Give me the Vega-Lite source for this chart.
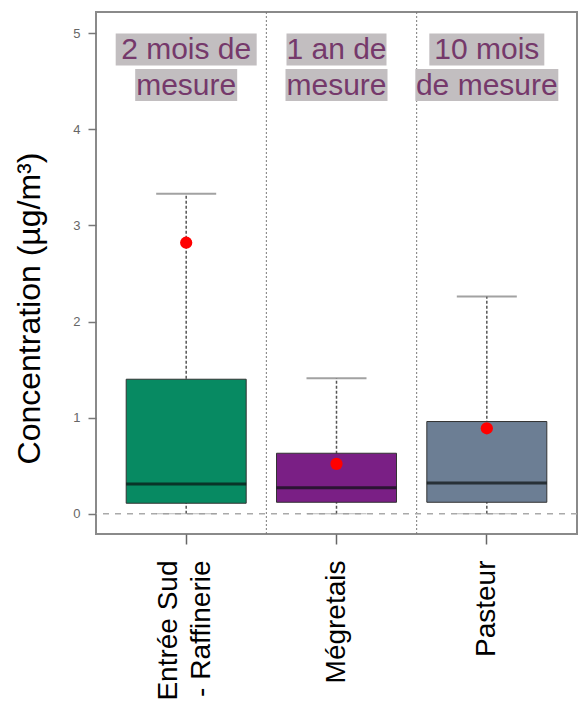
{
  "$schema": "https://vega.github.io/schema/vega-lite/v6.json",
  "autosize": {"type": "none"},
  "padding": {"left": 96, "top": 12, "right": 2, "bottom": 179},
  "width": 481,
  "height": 522,
  "config": {
    "font": "Liberation Sans",
    "view": {"stroke": "#8a8a8a", "strokeWidth": 2}
  },
  "datasets": {
    "stats": [
      {"site": "Entrée Sud - Raffinerie", "low": 0, "q1": 0.11, "median": 0.31, "q3": 1.40, "high": 3.33, "mean": 2.82},
      {"site": "Mégretais", "low": 0, "q1": 0.12, "median": 0.27, "q3": 0.63, "high": 1.41, "mean": 0.52},
      {"site": "Pasteur", "low": 0, "q1": 0.12, "median": 0.32, "q3": 0.96, "high": 2.26, "mean": 0.89}
    ],
    "notes": [
      {"site": "Entrée Sud - Raffinerie", "label": "2 mois de", "y": 4.83},
      {"site": "Entrée Sud - Raffinerie", "label": "mesure", "y": 4.46},
      {"site": "Mégretais", "label": "1 an de", "y": 4.83},
      {"site": "Mégretais", "label": "mesure", "y": 4.46},
      {"site": "Pasteur", "label": "10 mois", "y": 4.83},
      {"site": "Pasteur", "label": "de mesure", "y": 4.46}
    ],
    "dividers": [
      {"site": "Entrée Sud - Raffinerie"},
      {"site": "Mégretais"}
    ]
  },
  "layer": [
    {
      "data": {"name": "dividers"},
      "mark": {"type": "rule", "color": "#7a7a7a", "strokeDash": [2, 2], "strokeWidth": 1, "xOffset": 5},
      "encoding": {
        "x": {
          "field": "site",
          "type": "nominal",
          "bandPosition": 1,
          "scale": {"type": "band", "domain": ["Entrée Sud - Raffinerie", "Mégretais", "Pasteur"], "paddingInner": 0, "paddingOuter": 0.1},
          "axis": {
            "title": null,
            "domain": false,
            "labelAngle": -90,
            "labelAlign": "right",
            "labelBaseline": "middle",
            "labelFontSize": 28,
            "labelColor": "#000000",
            "labelLimit": 400,
            "labelPadding": 16,
            "labelLineHeight": 33,
            "labelOffset": {"condition": {"test": "datum.value == 'Entrée Sud - Raffinerie'", "value": -17}, "value": 0},
            "labelExpr": "datum.value == 'Entrée Sud - Raffinerie' ? ['Entrée Sud', '- Raffinerie'] : datum.label",
            "tickColor": "#666666",
            "tickSize": 10,
            "tickWidth": 1.5
          }
        }
      }
    },
    {
      "data": {"values": [{"v": 0}]},
      "mark": {"type": "rule", "color": "#aaaaaa", "strokeDash": [6, 6], "strokeWidth": 1.5},
      "encoding": {
        "y": {"field": "v", "type": "quantitative"}
      }
    },
    {
      "data": {"name": "stats"},
      "mark": {"type": "rule", "color": "#555555", "strokeDash": [3, 2], "strokeWidth": 1.5},
      "encoding": {
        "x": {"field": "site", "type": "nominal"},
        "y": {
          "field": "low",
          "type": "quantitative",
          "scale": {"domain": [-0.21, 5.22], "nice": false, "zero": false},
          "axis": {
            "title": "Concentration (µg/m³)",
            "titleFontSize": 32,
            "titleFontWeight": "normal",
            "titleColor": "#000000",
            "titlePadding": 26,
            "titleY": 296,
            "values": [0, 1, 2, 3, 4, 5],
            "format": "d",
            "grid": false,
            "domain": false,
            "labelFontSize": 13,
            "labelColor": "#666666",
            "labelPadding": 8,
            "tickColor": "#777777",
            "tickSize": 8,
            "tickWidth": 1.5
          }
        },
        "y2": {"field": "high"}
      }
    },
    {
      "data": {"name": "stats"},
      "mark": {"type": "tick", "color": "#7a7a7a", "thickness": 2, "size": 60},
      "encoding": {"x": {"field": "site", "type": "nominal"}, "y": {"field": "high", "type": "quantitative"}}
    },
    {
      "data": {"name": "stats"},
      "mark": {"type": "tick", "color": "#9a9a9a", "thickness": 1, "size": 60, "strokeDash": [2, 1]},
      "encoding": {"x": {"field": "site", "type": "nominal"}, "y": {"field": "low", "type": "quantitative"}}
    },
    {
      "data": {"name": "stats"},
      "mark": {"type": "bar", "size": 120, "stroke": "#333333", "strokeWidth": 1},
      "encoding": {
        "x": {"field": "site", "type": "nominal"},
        "y": {"field": "q1", "type": "quantitative"},
        "y2": {"field": "q3"},
        "color": {
          "field": "site",
          "type": "nominal",
          "scale": {
            "domain": ["Entrée Sud - Raffinerie", "Mégretais", "Pasteur"],
            "range": ["#078a62", "#7a1f85", "#6c7e94"]
          },
          "legend": null
        }
      }
    },
    {
      "data": {"name": "stats"},
      "mark": {"type": "tick", "color": "#0a0f10", "thickness": 3, "size": 120},
      "encoding": {"x": {"field": "site", "type": "nominal"}, "y": {"field": "median", "type": "quantitative"}}
    },
    {
      "data": {"name": "stats"},
      "mark": {"type": "point", "filled": true, "color": "#ff0000", "opacity": 1, "size": 150},
      "encoding": {"x": {"field": "site", "type": "nominal"}, "y": {"field": "mean", "type": "quantitative"}}
    },
    {
      "data": {"name": "notes"},
      "mark": {"type": "tick", "color": "#c2bec0", "thickness": 32, "opacity": 1},
      "encoding": {
        "x": {"field": "site", "type": "nominal"},
        "y": {"field": "y", "type": "quantitative"},
        "size": {
          "field": "label",
          "type": "nominal",
          "scale": {
            "type": "ordinal",
            "domain": ["2 mois de", "mesure", "1 an de", "10 mois", "de mesure"],
            "range": [141, 102, 100, 115, 143]
          },
          "legend": null
        }
      }
    },
    {
      "data": {"name": "notes"},
      "mark": {"type": "text", "fontSize": 30, "color": "#75396b", "baseline": "middle", "align": "center", "dy": 1},
      "encoding": {
        "x": {"field": "site", "type": "nominal"},
        "y": {"field": "y", "type": "quantitative"},
        "text": {"field": "label"}
      }
    }
  ]
}
